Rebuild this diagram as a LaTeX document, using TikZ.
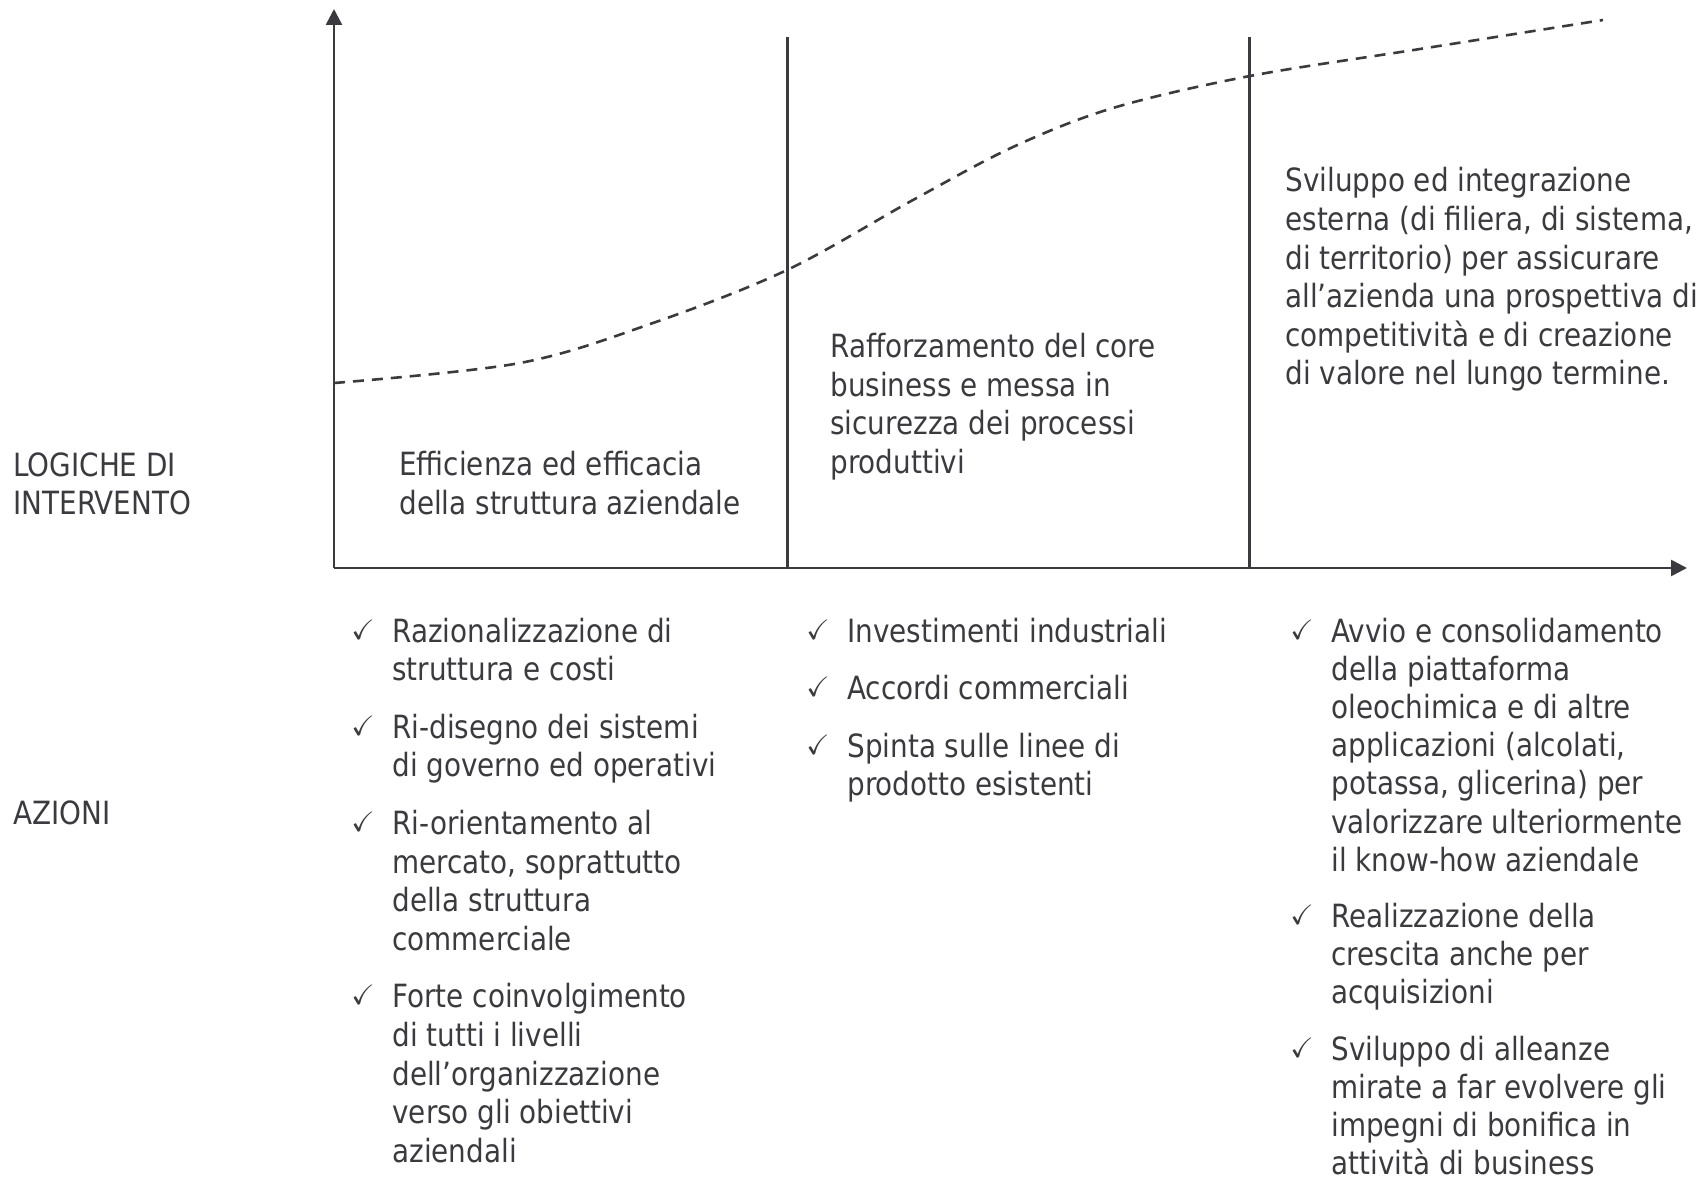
\documentclass[tikz,border=0pt]{standalone}
\usepackage{amssymb}
\usepackage{fontspec}
\setmainfont{DejaVu Sans}[FakeStretch=0.87]
\usetikzlibrary{arrows.meta}
\definecolor{ink}{HTML}{3B3B3F}
\newcommand{\ckb}{\makebox[20.5pt][l]{\raisebox{1.5pt}{\fontsize{14}{14}\selectfont$\checkmark$}}}
\newcommand{\lns}[1]{\begin{tabular}[t]{@{}l@{}}#1\end{tabular}}
\newcommand{\cklist}[1]{\begin{tabular}[t]{@{}l@{}l@{}}#1\end{tabular}}
\begin{document}
\begin{tikzpicture}[x=0.5pt,y=-0.5pt]
\tikzset{
  axisline/.style={draw=ink, line width=1.3pt},
  arrowed/.style={-{Triangle[length=8pt,width=8pt]}},
  trend/.style={draw=ink, line width=1.3pt, dash pattern=on 5.5pt off 4pt},
  txt/.style={anchor=base west, inner sep=0pt, text=ink, font=\fontsize{16}{19.3}\selectfont},
  tighttxt/.style={txt, font=\fontsize{16}{19.1}\selectfont},
}
\useasboundingbox (0,0) rectangle (1704,1182);
% axes
\coordinate (O) at (334,568);
\coordinate (ytop) at (334,9);
\coordinate (xend) at (1687,568);
\coordinate (d1t) at (787.5,37.5);
\coordinate (d1b) at (787.5,568);
\coordinate (d2t) at (1249.5,37.5);
\coordinate (d2b) at (1249.5,568);
\draw[axisline, arrowed] (O) -- (ytop);
\draw[axisline, arrowed] (O) -- (xend);
\draw[axisline] (d1b) -- (d1t);
\draw[axisline] (d2b) -- (d2t);
% trend curve
\draw[trend] plot[smooth, tension=0.55] coordinates {(334,383) (520,363) (653,323) (787,270) (913,200) (1013,147) (1113,108) (1250,76) (1420,49) (1603,20)};
% row labels
\node[txt] (logiche) at (13,476) {\lns{LOGICHE DI\\INTERVENTO}};
\node[txt] (azioni) at (13,824) {AZIONI};
% phase texts
\node[txt] (f1) at (399,475.5) {\lns{Efficienza ed efficacia\\della struttura aziendale}};
\node[txt] (f2) at (830,357.5) {\lns{Rafforzamento del core\\business e messa in\\sicurezza dei processi\\produttivi}};
\node[txt] (f3) at (1285,192) {\lns{Sviluppo ed integrazione\\esterna (di filiera, di sistema,\\di territorio) per assicurare\\all’azienda una prospettiva di\\competitività e di creazione\\di valore nel lungo termine.}};
% actions
\node[txt] (a1) at (351,642) {\cklist{%
\ckb & Razionalizzazione di\\ & struttura e costi\\[9.5pt]
\ckb & Ri-disegno dei sistemi\\ & di governo ed operativi\\[9.5pt]
\ckb & Ri-orientamento al\\ & mercato, soprattutto\\ & della struttura\\ & commerciale\\[9.5pt]
\ckb & Forte coinvolgimento\\ & di tutti i livelli\\ & dell’organizzazione\\ & verso gli obiettivi\\ & aziendali}};
\node[txt] (a2) at (806,642) {\cklist{%
\ckb & Investimenti industriali\\[9.5pt]
\ckb & Accordi commerciali\\[9.5pt]
\ckb & Spinta sulle linee di\\ & prodotto esistenti}};
\node[tighttxt] (a3) at (1290,642) {\cklist{%
\ckb & Avvio e consolidamento\\ & della piattaforma\\ & oleochimica e di altre\\ & applicazioni (alcolati,\\ & potassa, glicerina) per\\ & valorizzare ulteriormente\\ & il know-how aziendale\\[9pt]
\ckb & Realizzazione della\\ & crescita anche per\\ & acquisizioni\\[9pt]
\ckb & Sviluppo di alleanze\\ & mirate a far evolvere gli\\ & impegni di bonifica in\\ & attività di business\\[-6pt]}};
\end{tikzpicture}
\end{document}
